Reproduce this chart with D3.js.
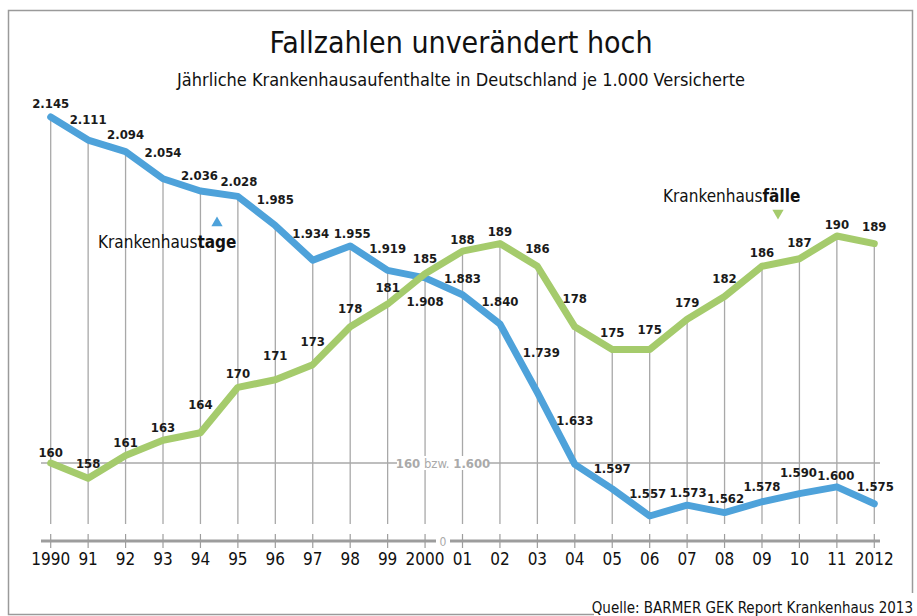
<!DOCTYPE html>
<html>
<head>
<meta charset="utf-8">
<script src="https://cdn.jsdelivr.net/npm/d3@7"></script>
<style>
  html, body { margin: 0; padding: 0; background: #fff; }
  svg { display: block; font-family: "DejaVu Sans Condensed", "Liberation Sans Narrow", "Liberation Sans", sans-serif; }
</style>
</head>
<body>
<svg id="chart" width="917" height="616"></svg>
<script>
// jahre (x axis)
var years = [1990, 1991, 1992, 1993, 1994, 1995, 1996, 1997, 1998, 1999, 2000, 2001,
             2002, 2003, 2004, 2005, 2006, 2007, 2008, 2009, 2010, 2011, 2012]
var yearLabels = ["1990", "91", "92", "93", "94", "95", "96", "97", "98", "99", "2000", "01",
                  "02", "03", "04", "05", "06", "07", "08", "09", "10", "11", "2012"]
// Krankenhaustage je 1.000 Versicherte
var tage = [2145, 2111, 2094, 2054, 2036, 2028, 1985, 1934, 1955, 1919, 1908, 1883,
            1840, 1739, 1633, 1597, 1557, 1573, 1562, 1578, 1590, 1600, 1575]
// Krankenhausfaelle je 1.000 Versicherte
var faelle = [160, 158, 161, 163, 164, 170, 171, 173, 178, 181, 185, 188,
              189, 186, 178, 175, 175, 179, 182, 186, 187, 190, 189]

// label nudges (baseline offset from the point)
var tageDy = [-9, -16, -13, -22, -11, -10, -22, -22, -8, -17, 28, -12,
              -18, -36, -39, -16, -18, -8, -10, -11, -17, -7, -13]
var tageDx = [0, 0, 0, 0, -1, 1, 0, -2, 2, 0, 0, 0,
              0, 4, 0, 0, -2, 1, 1, 0, -1, -1, 1]
var faelleDy = [-6, -10, -8, -8, -24, -9, -20, -19, -14, -12, -11, -7,
                -8, -13, -24, -13, -16, -12, -14, -9, -12, -7, -13]

var blue = "#4ea2da"
var green = "#a5cb6c"
var grey = "#a8a8a8"

var fmt = v => v >= 1000 ? d3.format(",")(v).replace(",", ".") : String(v)

var svg = d3.select("#chart")

var x = d3.scalePoint().domain(years).range([50.7, 874.3])
var yT = d3.scaleLinear().domain([1557, 2145]).range([516, 117])
var yF = d3.scaleLinear().domain([160, 190]).range([463, 236])

var rows = years.map((yr, i) => ({year: yr, label: yearLabels[i], t: tage[i], f: faelle[i],
    tdy: tageDy[i], tdx: tageDx[i], fdy: faelleDy[i]}))

// frame
svg.append("path")
    .attr("d", "M594,614.5 H8.5 V10.5 H912.5 V593")
    .attr("fill", "none")
    .attr("stroke", "#9a9a9a")
    .attr("stroke-width", 1.5)

// title
svg.append("text")
    .attr("x", 461).attr("y", 53)
    .attr("text-anchor", "middle")
    .attr("font-size", 30)
    .attr("fill", "#111")
    .text("Fallzahlen unverändert hoch")

svg.append("text")
    .attr("x", 461).attr("y", 86)
    .attr("text-anchor", "middle")
    .attr("font-size", 18)
    .attr("fill", "#111")
    .text("Jährliche Krankenhausaufenthalte in Deutschland je 1.000 Versicherte")

var baseY = 541
var gridBottom = 524

// vertical grid lines, from the upper point down
svg.append("g")
    .selectAll("line")
    .data(rows)
    .join("line")
    .attr("x1", d => x(d.year)).attr("x2", d => x(d.year))
    .attr("y1", d => Math.min(yT(d.t), yF(d.f)))
    .attr("y2", gridBottom)
    .attr("stroke", grey)
    .attr("stroke-width", 1.3)

// reference line 160 / 1.600
var refY = yF(160)
var refGap = [397, 489]
svg.append("g")
    .selectAll("line")
    .data([[41, refGap[0]], [refGap[1], 880]])
    .join("line")
    .attr("x1", d => d[0]).attr("x2", d => d[1])
    .attr("y1", refY).attr("y2", refY)
    .attr("stroke", grey)
    .attr("stroke-width", 1.3)

// knock out the grid behind the label
svg.append("rect")
    .attr("x", refGap[0] + 2).attr("y", refY - 7)
    .attr("width", refGap[1] - refGap[0] - 4).attr("height", 14)
    .attr("fill", "#fff")

var refLabel = svg.append("text")
    .attr("x", (refGap[0] + refGap[1]) / 2).attr("y", refY + 5)
    .attr("text-anchor", "middle")
    .attr("font-size", 13)
    .attr("fill", "#aaaaaa")
refLabel.append("tspan").attr("font-weight", "bold").text("160")
refLabel.append("tspan").text(" bzw. ")
refLabel.append("tspan").attr("font-weight", "bold").text("1.600")

// baseline with a break for the zero
var zeroX = 443
svg.append("g")
    .selectAll("line")
    .data([[41, zeroX - 7], [zeroX + 7, 880]])
    .join("line")
    .attr("x1", d => d[0]).attr("x2", d => d[1])
    .attr("y1", baseY).attr("y2", baseY)
    .attr("stroke", "#9d9d9d")
    .attr("stroke-width", 3)
svg.append("text")
    .attr("x", zeroX).attr("y", baseY + 4.5)
    .attr("text-anchor", "middle")
    .attr("font-size", 12)
    .attr("fill", "#aaaaaa")
    .text("0")

// ticks + year labels
svg.append("g")
    .selectAll("line")
    .data(rows)
    .join("line")
    .attr("x1", d => x(d.year)).attr("x2", d => x(d.year))
    .attr("y1", baseY - 7).attr("y2", baseY + 7)
    .attr("stroke", "#9d9d9d")
    .attr("stroke-width", 1.2)

svg.append("g")
    .selectAll("text")
    .data(rows)
    .join("text")
    .attr("x", d => x(d.year))
    .attr("y", 565)
    .attr("text-anchor", "middle")
    .attr("font-size", 17)
    .attr("fill", "#111")
    .text(d => d.label)

// lines
var lineT = d3.line().x(d => x(d.year)).y(d => yT(d.t))
var lineF = d3.line().x(d => x(d.year)).y(d => yF(d.f))

svg.append("path")
    .datum(rows)
    .attr("d", lineT)
    .attr("fill", "none")
    .attr("stroke", blue)
    .attr("stroke-width", 7)
    .attr("stroke-linejoin", "round")
    .attr("stroke-linecap", "round")

svg.append("path")
    .datum(rows)
    .attr("d", lineF)
    .attr("fill", "none")
    .attr("stroke", green)
    .attr("stroke-width", 7)
    .attr("stroke-linejoin", "round")
    .attr("stroke-linecap", "round")

// value labels
svg.append("g")
    .attr("font-size", 13)
    .attr("font-weight", "bold")
    .attr("fill", "#1a1a1a")
    .attr("text-anchor", "middle")
    .selectAll("text")
    .data(rows)
    .join("text")
    .attr("x", d => x(d.year) + d.tdx)
    .attr("y", d => yT(d.t) + d.tdy)
    .text(d => fmt(d.t))

svg.append("g")
    .attr("font-size", 13)
    .attr("font-weight", "bold")
    .attr("fill", "#1a1a1a")
    .attr("text-anchor", "middle")
    .selectAll("text")
    .data(rows)
    .join("text")
    .attr("x", d => x(d.year))
    .attr("y", d => yF(d.f) + d.fdy)
    .text(d => fmt(d.f))

// series names with triangles
var tLab = svg.append("text")
    .attr("x", 98).attr("y", 248)
    .attr("font-size", 17)
    .attr("fill", "#111")
tLab.append("tspan").text("Krankenhaus")
tLab.append("tspan").attr("font-weight", "bold").text("tage")

svg.append("path")
    .attr("d", d3.symbol(d3.symbolTriangle, 55)())
    .attr("transform", "translate(217,223)")
    .attr("fill", blue)

var fLab = svg.append("text")
    .attr("x", 663).attr("y", 202)
    .attr("font-size", 17)
    .attr("fill", "#111")
fLab.append("tspan").text("Krankenhaus")
fLab.append("tspan").attr("font-weight", "bold").text("fälle")

svg.append("path")
    .attr("d", d3.symbol(d3.symbolTriangle, 55)())
    .attr("transform", "translate(778,213) rotate(180)")
    .attr("fill", green)

// source
svg.append("text")
    .attr("x", 913).attr("y", 613)
    .attr("text-anchor", "end")
    .attr("font-size", 15)
    .attr("fill", "#111")
    .text("Quelle: BARMER GEK Report Krankenhaus 2013")
</script>
</body>
</html>
